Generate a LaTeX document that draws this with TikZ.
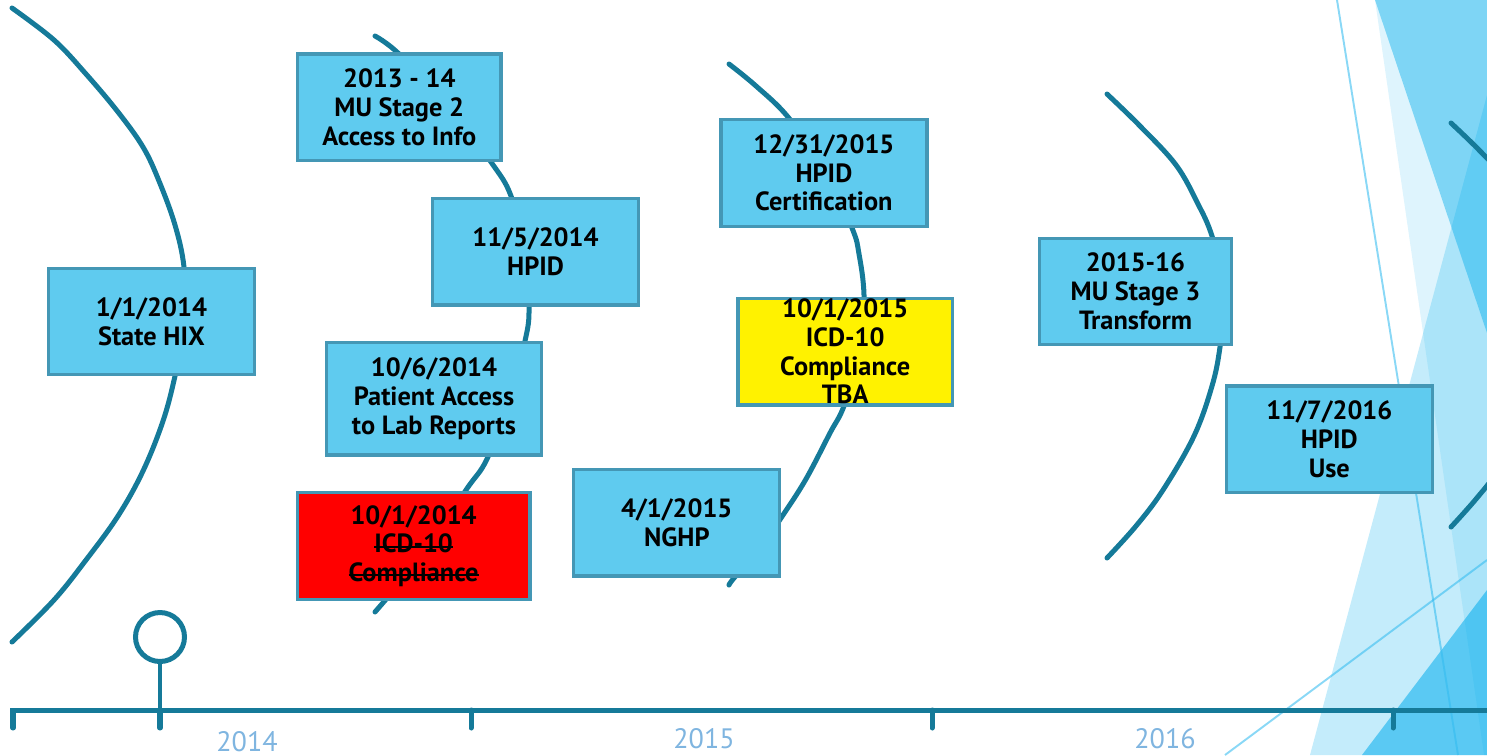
\documentclass[tikz,border=0pt]{standalone}
\usepackage{fontspec}
\setmainfont{PT Sans}
\usepackage{tikz}

\definecolor{arcteal}{HTML}{157A99}
\definecolor{boxfill}{HTML}{5FCBEF}
\definecolor{boxedge}{HTML}{4497B5}
\definecolor{yearblue}{HTML}{7FB5E0}
\definecolor{facet}{HTML}{00ACEC}
\definecolor{facetline}{HTML}{32BBF0}

\newcommand{\struck}[1]{\setbox0\hbox{#1}\rlap{\rule[0.4ex]{\wd0}{1.1pt}}\box0}

\begin{document}
\begin{tikzpicture}[x=0.02cm, y=-0.02cm,
      arcline/.style={arcteal, line width=2.85pt, line cap=round},  % the curved lines and the time axis
      event/.style={draw=boxedge, fill=boxfill, line width=1.9pt, inner sep=0pt,
        minimum width=4.12cm, minimum height=2.13cm, align=center, font=\eventfont},
      year/.style={yearblue, anchor=base, font=\fontsize{16}{18}\selectfont}
    ]
    \newcommand{\eventfont}{\bfseries\fontsize{15}{16.3}\selectfont}
    \useasboundingbox (0,0) rectangle (1487,755);

    % facets on the right
    \fill[facet, opacity=0.13] (1375,0) -- (1487,0) -- (1487,755) -- (1484,755) -- cycle;
    \fill[facet, opacity=0.43] (1375,0) -- (1487,0) -- (1487,333) -- cycle;
    \fill[facet, opacity=0.23] (1310,755) -- (1487,95) -- (1487,755) -- cycle;
    \fill[facet, opacity=0.54] (1362,755) -- (1487,590) -- (1487,755) -- cycle;
    \draw[facetline, opacity=0.57, line width=1.1pt] (1337,0) -- (1458,755);
    \draw[facetline, opacity=0.57, line width=1.1pt] (1225,755) -- (1487,560);

    \begin{scope}
      \clip (0,0) rectangle (1487,755);
      \draw[arcline] plot[smooth, tension=0.6] coordinates {(12,8) (54,40) (86,74) (118,112) (143,147) (159,181)
        (175,225) (184,267) (186,320) (175,376) (163,421) (143,471) (118,516) (86,560) (54,600) (12,642)};
      \draw[arcline] plot[smooth, tension=0.6] coordinates {(375,36) (398,53) (447,104) (491,162) (511,196)
        (524,250) (529,307) (525,341) (509,400) (487,459) (466,490) (424,553) (375,612)};
      \draw[arcline] plot[smooth, tension=0.6] coordinates {(729,64) (756,86) (788,117) (824,168) (852,228)
        (859,254) (864,295) (862,350) (844,406) (830,433) (806,479) (783,515) (760,548) (734,578) (729,585)};
      \draw[arcline] plot[smooth, tension=0.6] coordinates {(1107,94) (1140,126) (1176,165) (1198,204) (1212,236)
        (1226,290) (1220,347) (1212,386) (1194,436) (1163,490) (1136,526) (1107,558)};
      \draw[arcline] plot[smooth, tension=0.6] coordinates {(1451,123) (1480,151) (1511,185) (1530,219) (1542,247)
        (1555,294) (1549,343) (1542,377) (1527,421) (1500,468) (1476,499) (1451,527)};

      % time axis
      \coordinate (axisstart) at (13,710);
      \coordinate (axisend) at (1490,710);
      \draw[arcline] (13,728) -- (axisstart) -- (axisend);
      \foreach \x in {160,471,932,1393}
        \draw[arcline] (\x,710) -- (\x,728);
    \end{scope}

    \node[circle, draw=arcteal, line width=2.85pt, inner sep=0pt, minimum size=0.98cm] (pin) at (160,637) {};
    \coordinate (pinfoot) at (160,710);
    \draw[arcline, line width=2.5pt] (pin.south) -- (pinfoot);

    \node[event] (hix) at (151.4,321.5) {1/1/2014\\State HIX};
    \node[event, minimum width=4.07cm] (mustwo) at (399.3,107.3) {2013 - 14\\MU Stage 2\\Access to Info};
    \node[event, minimum width=4.11cm] (hpid) at (535.5,251.7) {11/5/2014\\HPID};
    \node[event, minimum width=4.31cm, minimum height=2.25cm] (labs) at (434,398.8) {10/6/2014\\Patient Access\\to Lab Reports};
    \node[event, fill=red, minimum width=4.65cm] (icdold) at (413.6,546) {10/1/2014\\\struck{ICD-10}\\\struck{Compliance}};
    \node[event] (hpidcert) at (823.9,173) {12/31/2015\\HPID\\Certification};
    \node[event, fill=yellow, minimum width=4.29cm] (icdnew) at (845.2,351.6) {};
    \node[align=center, font=\eventfont, inner sep=0pt] (icdnewtext) at (icdnew.center) {10/1/2015\\ICD-10\\Compliance\\TBA};
    \node[event] (nghp) at (676.8,522.7) {4/1/2015\\NGHP};
    \node[event, minimum width=3.84cm] (muthree) at (1135.5,291.4) {2015-16\\MU Stage 3\\Transform};
    \node[event] (hpiduse) at (1329.3,439.3) {11/7/2016\\HPID\\Use};

    \node[year] (yfourteen) at (247,751) {2014};
    \node[year] (yfifteen) at (704,748) {2015};
    \node[year] (ysixteen) at (1165,748) {2016};
\end{tikzpicture}
\end{document}
